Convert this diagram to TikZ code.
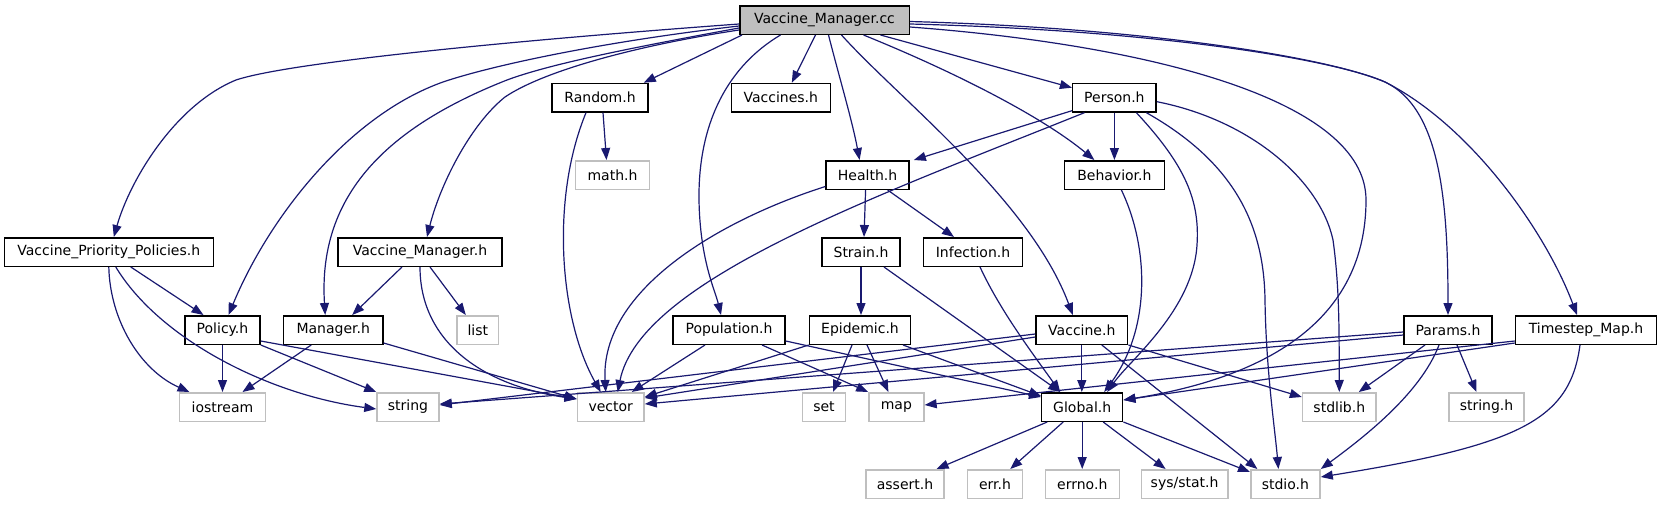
\documentclass[tikz,border=0pt]{standalone}
\usepackage{fontspec}
\setmainfont{DejaVu Sans}
\usetikzlibrary{arrows.meta}
\definecolor{edgeblue}{HTML}{191970}
\definecolor{grey75}{HTML}{BFBFBF}
\begin{document}
\begin{tikzpicture}[x=1pt,y=-1pt,
  box/.style={draw,line width=1.5pt,inner sep=0pt,minimum height=28.5pt,font=\fontsize{14}{16}\selectfont},
  doc/.style={box,draw=black},
  ext/.style={box,draw=grey75},
  rootnode/.style={box,draw=black,fill=grey75},
  edg/.style={draw=edgeblue,line width=1.2pt,-{Triangle[length=12pt,width=9pt]}}]
\useasboundingbox (0,0) rectangle (1660,504);
% nodes
\node[rootnode,minimum width=169.5pt] (root) at (824.5,20) {Vaccine\_Manager.cc};
\node[doc,minimum width=96pt] (random) at (600,97.7) {Random.h};
\node[doc,minimum width=99pt] (vaccines) at (780.8,97.7) {Vaccines.h};
\node[doc,minimum width=83.5pt] (person) at (1114.4,97.7) {Person.h};
\node[ext,minimum width=74pt] (math) at (612.5,175) {math.h};
\node[doc,minimum width=83pt] (health) at (867.6,175) {Health.h};
\node[doc,minimum width=100pt] (behavior) at (1114.4,175) {Behavior.h};
\node[doc,minimum width=77.7pt] (strain) at (861,252) {Strain.h};
\node[doc,minimum width=99pt] (infection) at (973,252) {Infection.h};
\node[doc,minimum width=209pt] (vpp) at (108.8,252) {Vaccine\_Priority\_Policies.h};
\node[doc,minimum width=163.6pt] (vmh) at (420,252) {Vaccine\_Manager.h};
\node[doc,minimum width=75pt] (policy) at (222.5,330) {Policy.h};
\node[doc,minimum width=99.3pt] (manager) at (333.2,330) {Manager.h};
\node[ext,minimum width=41.6pt] (list) at (477.8,330) {list};
\node[doc,minimum width=112pt] (population) at (729,330) {Population.h};
\node[doc,minimum width=101pt] (epidemic) at (860,330) {Epidemic.h};
\node[doc,minimum width=91.7pt] (vaccine) at (1081.8,330) {Vaccine.h};
\node[doc,minimum width=88pt] (params) at (1448,330) {Params.h};
\node[doc,minimum width=141pt] (timestep) at (1586,330) {Timestep\_Map.h};
\node[ext,minimum width=85.7pt] (iostream) at (222.5,407) {iostream};
\node[ext,minimum width=62pt] (string) at (408,407) {string};
\node[ext,minimum width=66.7pt] (vector) at (610.7,407) {vector};
\node[ext,minimum width=43pt] (set) at (824,407) {set};
\node[ext,minimum width=55pt] (map) at (896.4,407) {map};
\node[doc,minimum width=81pt] (global) at (1082.2,407) {Global.h};
\node[ext,minimum width=73.5pt] (stdlib) at (1339.3,407) {stdlib.h};
\node[ext,minimum width=75pt] (stringh) at (1486.5,407) {string.h};
\node[ext,minimum width=77.6pt] (assert) at (905,484) {assert.h};
\node[ext,minimum width=55pt] (err) at (995,484) {err.h};
\node[ext,minimum width=74pt] (errno) at (1082.3,484) {errno.h};
\node[ext,minimum width=86.4pt] (sysstat) at (1184.6,484) {sys/stat.h};
\node[ext,minimum width=69.3pt] (stdio) at (1285.4,484) {stdio.h};
% root edges
\draw[edg] ([yshift=-4pt]root.west) .. controls (520,40) and (290,62) .. (236,80) .. controls (175,105) and (130,180) .. ([xshift=5pt]vpp.north);
\draw[edg] ([yshift=-6pt]root.west) .. controls (600,42) and (490,66) .. (443,82) .. controls (350,115) and (270,215) .. ([xshift=6pt]policy.north);
\draw[edg] ([yshift=-8pt]root.west) .. controls (630,48) and (550,64) .. (507,80) .. controls (380,130) and (318,200) .. ([xshift=-8pt]manager.north);
\draw[edg] ([yshift=-10pt]root.west) .. controls (640,45) and (545,70) .. (505,97) .. controls (470,125) and (440,185) .. ([xshift=7pt]vmh.north);
\draw[edg] ([xshift=3pt]root.south west) -- ([xshift=-5pt]random.north east);
\draw[edg] ([xshift=-44pt]root.south) .. controls (730,65) and (698,120) .. (699,200) .. controls (700,260) and (715,290) .. ([xshift=-8pt]population.north);
\draw[edg] ([xshift=-9pt]root.south) -- ([xshift=11pt]vaccines.north);
\draw[edg] ([xshift=4pt]root.south) .. controls (840,80) and (852,120) .. ([xshift=-8pt]health.north);
\draw[edg] ([xshift=17pt]root.south) .. controls (900,100) and (1030,200) .. ([xshift=-9pt]vaccine.north);
\draw[edg] ([xshift=39pt]root.south) .. controls (950,70) and (1040,115) .. ([xshift=-20pt]behavior.north);
\draw[edg] ([xshift=56pt]root.south) -- ([yshift=10pt]person.west);
\draw[edg] ([yshift=-7pt]root.east) .. controls (1150,45) and (1366,100) .. (1366,200) .. controls (1366,330) and (1250,380) .. ([yshift=7pt]global.east);
\draw[edg] ([yshift=-4pt]root.east) .. controls (1150,30) and (1330,58) .. (1385,82) .. controls (1440,108) and (1448,200) .. (params.north);
\draw[edg] ([yshift=-1.5pt]root.east) .. controls (1150,28) and (1330,58) .. (1385,82) .. controls (1470,125) and (1545,230) .. ([xshift=-9pt]timestep.north);
% Person
\draw[edg] ([yshift=2pt]person.south west) -- ([xshift=4pt]health.north east);
\draw[edg] (person.south) -- (behavior.north);
\draw[edg] ([xshift=-30pt]person.south) .. controls (880,195) and (640,280) .. ([xshift=7pt]vector.north);
\draw[edg] ([xshift=22pt]person.south) .. controls (1185,165) and (1200,200) .. (1197,245) .. controls (1193,310) and (1130,360) .. ([xshift=25pt]global.north);
\draw[edg] ([xshift=32pt]person.south) .. controls (1230,160) and (1264,220) .. (1265,300) .. controls (1266,370) and (1275,430) .. ([xshift=-7pt]stdio.north);
\draw[edg] ([yshift=-4pt]person.east) .. controls (1250,120) and (1320,180) .. (1333,240) .. controls (1340,290) and (1339,340) .. (stdlib.north);
% Behavior
\draw[edg] ([xshift=7pt]behavior.south) .. controls (1150,250) and (1150,330) .. ([xshift=22pt]global.north);
% Random
\draw[edg] ([xshift=3pt]random.south) -- ([xshift=-6pt]math.north);
\draw[edg] ([xshift=-14pt]random.south) .. controls (550,200) and (560,320) .. ([xshift=-10pt]vector.north);
% Health
\draw[edg] ([yshift=-11.5pt]health.west) .. controls (720,220) and (600,290) .. ([xshift=-5pt]vector.north);
\draw[edg] ([xshift=-2pt]health.south) -- ([xshift=3pt]strain.north);
\draw[edg] ([xshift=20pt]health.south) -- ([xshift=-19pt]infection.north);
% Strain, Infection
\draw[edg] (strain.south) -- (strain.south |- epidemic.north);
\draw[edg] ([xshift=23pt]strain.south) -- ([xshift=-22pt]global.north);
\draw[edg] ([xshift=7pt]infection.south) .. controls (1000,310) and (1030,350) .. ([xshift=-22pt]global.north);
% VPP
\draw[edg] ([xshift=22pt]vpp.south) -- ([xshift=-19pt]policy.north);
\draw[edg] (vpp.south) .. controls (110,320) and (140,370) .. ([xshift=-33pt]iostream.north);
\draw[edg] ([xshift=7pt]vpp.south) .. controls (160,340) and (270,395) .. ([yshift=-2pt]string.west);
% Vaccine_Manager.h
\draw[edg] ([xshift=-18pt]vmh.south) -- ([xshift=19pt]manager.north);
\draw[edg] ([xshift=10pt]vmh.south) -- ([xshift=-12pt]list.north);
\draw[edg] (vmh.south) .. controls (420,340) and (480,385) .. ([yshift=8pt]vector.west);
% Policy
\draw[edg] (policy.south) -- (iostream.north);
\draw[edg] (policy.south east) -- (string.north west);
\draw[edg] ([yshift=-11pt]policy.east) -- ([yshift=8pt]vector.west);
% Manager
\draw[edg] ([xshift=-22pt]manager.south) -- ([xshift=20pt]iostream.north);
\draw[edg] ([yshift=-13pt]manager.east) -- ([yshift=8pt]vector.west);
% Population
\draw[edg] ([xshift=-24pt]population.south) -- ([xshift=21pt]vector.north);
\draw[edg] ([xshift=33pt]population.south) -- (map.north west);
\draw[edg] ([yshift=-11pt]population.east) -- ([yshift=10pt]global.west);
% Epidemic
\draw[edg] (epidemic.south west) -- ([yshift=10pt]vector.east);
\draw[edg] ([xshift=-8pt]epidemic.south) -- ([xshift=9pt]set.north);
\draw[edg] ([xshift=7pt]epidemic.south) -- ([xshift=-8pt]map.north);
\draw[edg] ([xshift=43pt]epidemic.south) -- ([yshift=11pt]global.west);
% Vaccine
\draw[edg] ([yshift=-4pt]vaccine.west) -- ([yshift=2pt]string.east);
\draw[edg] ([yshift=-7pt]vaccine.west) -- ([yshift=9pt]vector.east);
\draw[edg] (vaccine.south) -- (vaccine.south |- global.north);
\draw[edg] (vaccine.south east) -- ([yshift=10pt]stdlib.west);
\draw[edg] ([xshift=20pt]vaccine.south) -- ([xshift=-28pt]stdio.north);
% Params
\draw[edg] ([yshift=-2pt]params.west) -- ([yshift=3pt]string.east);
\draw[edg] ([yshift=-5pt]params.west) -- ([yshift=3pt]vector.east);
\draw[edg] ([xshift=-23pt]params.south) -- ([xshift=-18pt]stdlib.north east);
\draw[edg] ([xshift=9pt]params.south) -- ([xshift=-10pt]stringh.north);
\draw[edg] ([xshift=-9pt]params.south) .. controls (1420,395) and (1360,440) .. (stdio.north east);
% Timestep_Map
\draw[edg] ([yshift=-13pt]timestep.west) -- ([yshift=7pt]global.east);
\draw[edg] ([yshift=-11pt]timestep.west) -- ([yshift=2pt]map.east);
\draw[edg] ([xshift=-6pt]timestep.south) .. controls (1570,420) and (1520,445) .. ([yshift=7pt]stdio.east);
% Global
\draw[edg] ([xshift=-35pt]global.south) -- ([xshift=-8pt]assert.north east);
\draw[edg] ([xshift=-19pt]global.south) -- ([xshift=-13pt]err.north east);
\draw[edg] (global.south) -- (global.south |- errno.north);
\draw[edg] ([xshift=21pt]global.south) -- ([xshift=-19pt]sysstat.north);
\draw[edg] (global.south east) -- ([yshift=-3pt]stdio.north west);
\end{tikzpicture}
\end{document}
